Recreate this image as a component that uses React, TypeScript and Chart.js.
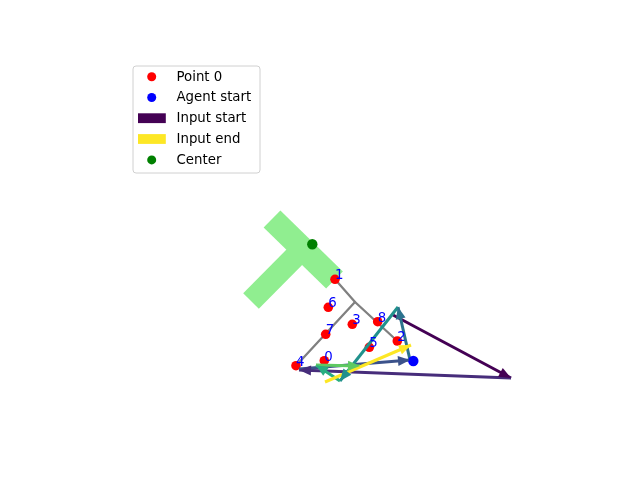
import React, { useEffect, useRef } from "react";
import { Chart, registerables } from "chart.js";

Chart.register(...registerables);

// Data space: x to the right, y upward (arbitrary units)
const X_MIN = 0, X_MAX = 64, Y_MIN = 0, Y_MAX = 48;

// Numbered points
const pointLabels = ["0", "1", "2", "3", "4", "5", "6", "7", "8"];
const pointX = [32.43, 33.5, 39.73, 35.23, 29.6, 36.93, 32.83, 32.57, 37.77];
const pointY = [11.93, 20.07, 13.9, 15.57, 11.43, 13.27, 17.27, 14.57, 15.83];

// Agent start and center
const agentStartX = [41.33];
const agentStartY = [11.9];
const centerX = [31.23];
const centerY = [23.57];

// Gray skeleton lines
const grayAX = [33.5, 35.5, 39.73];
const grayAY = [20.07, 17.8, 13.9];
const grayBX = [35.5, 29.6];
const grayBY = [17.8, 11.43];

// T-shaped region (two thick strokes)
const barX = [27.2, 33.45];
const barY = [26.1, 20.0];
const stemX = [30.25, 25.1];
const stemY = [23.1, 17.9];

// Input arrows (viridis, start -> end)
const arrowStartX = [39.3, 51.1, 29.9, 41.0, 39.8, 34.0, 31.6, 32.5];
const arrowStartY = [16.5, 10.2, 11.1, 12.0, 17.3, 9.9, 11.5, 9.8];
const arrowEndX = [51.1, 29.9, 41.0, 39.8, 34.0, 31.6, 36.0, 41.1];
const arrowEndY = [10.2, 11.0, 12.0, 17.3, 9.9, 11.5, 11.4, 13.5];
const arrowColors = ["#440154", "#472d7b", "#3b528b", "#2c728e", "#21918c", "#28ae80", "#5ec962", "#fde725"];

// Legend
const legendLabels = ["Point 0", "Agent start", "Input start", "Input end", "Center"];
const legendKinds = ["dot", "dot", "rect", "rect", "dot"];
const legendColors = ["#ff0000", "#0000ff", "#440154", "#fde725", "#008000"];

const FONT = "'DejaVu Sans', sans-serif";

const overlayPlugin = {
  id: "overlay",
  afterDatasetsDraw(chart: any) {
    const ctx = chart.ctx as CanvasRenderingContext2D;
    const xs = chart.scales.x;
    const ys = chart.scales.y;
    ctx.save();
    // arrowheads
    for (let i = 0; i < arrowStartX.length; i++) {
      const x0 = xs.getPixelForValue(arrowStartX[i]);
      const y0 = ys.getPixelForValue(arrowStartY[i]);
      const x1 = xs.getPixelForValue(arrowEndX[i]);
      const y1 = ys.getPixelForValue(arrowEndY[i]);
      const a = Math.atan2(y1 - y0, x1 - x0);
      const L = 12, W = 5;
      const c = Math.cos(a), s = Math.sin(a);
      ctx.beginPath();
      ctx.moveTo(x1, y1);
      ctx.lineTo(x1 - L * c + W * s, y1 - L * s - W * c);
      ctx.lineTo(x1 - L * c - W * s, y1 - L * s + W * c);
      ctx.closePath();
      ctx.fillStyle = arrowColors[i];
      ctx.fill();
    }
    // point labels
    ctx.font = `13.33px ${FONT}`;
    ctx.fillStyle = "#0000ff";
    ctx.textAlign = "left";
    ctx.textBaseline = "alphabetic";
    for (let i = 0; i < pointLabels.length; i++) {
      ctx.fillText(pointLabels[i], xs.getPixelForValue(pointX[i]), ys.getPixelForValue(pointY[i]));
    }
    ctx.restore();
  },
  afterDraw(chart: any) {
    const ctx = chart.ctx as CanvasRenderingContext2D;
    ctx.save();
    // legend box
    const bx = 133, by = 66, bw = 127, bh = 107, r = 3;
    ctx.beginPath();
    ctx.moveTo(bx + r, by);
    ctx.lineTo(bx + bw - r, by);
    ctx.arcTo(bx + bw, by, bx + bw, by + r, r);
    ctx.lineTo(bx + bw, by + bh - r);
    ctx.arcTo(bx + bw, by + bh, bx + bw - r, by + bh, r);
    ctx.lineTo(bx + r, by + bh);
    ctx.arcTo(bx, by + bh, bx, by + bh - r, r);
    ctx.lineTo(bx, by + r);
    ctx.arcTo(bx, by, bx + r, by, r);
    ctx.closePath();
    ctx.fillStyle = "rgba(255,255,255,0.8)";
    ctx.fill();
    ctx.strokeStyle = "#d0d0d0";
    ctx.lineWidth = 1;
    ctx.stroke();
    ctx.font = `13.33px ${FONT}`;
    ctx.textAlign = "left";
    ctx.textBaseline = "middle";
    for (let i = 0; i < legendLabels.length; i++) {
      const cy = 76.7 + i * 20.8;
      ctx.fillStyle = legendColors[i];
      if (legendKinds[i] === "dot") {
        ctx.beginPath();
        ctx.arc(151.7, cy, 4.5, 0, Math.PI * 2);
        ctx.fill();
      } else {
        ctx.fillRect(138, cy - 5, 27.8, 9.8);
      }
      ctx.fillStyle = "#000000";
      ctx.fillText(legendLabels[i], 176.5, cy + 0.5);
    }
    ctx.restore();
  },
};

const toXY = (xs: number[], ys: number[]) => xs.map((x, i) => ({ x, y: ys[i] }));

export default function App() {
  const ref = useRef<HTMLCanvasElement | null>(null);
  useEffect(() => {
    document.body.style.margin = "0";
    const canvas = ref.current;
    if (!canvas) return;
    const lineDs = (data: any[], color: string, width: number, order: number, cap = "round") => ({
      data,
      showLine: true,
      borderColor: color,
      backgroundColor: color,
      borderWidth: width,
      borderCapStyle: cap,
      borderJoinStyle: "miter",
      pointRadius: 0,
      pointHoverRadius: 0,
      order,
    });
    const datasets: any[] = [
      lineDs(toXY(barX, barY), "#90ee90", 24, 20, "butt"),
      lineDs(toXY(stemX, stemY), "#90ee90", 22, 19, "butt"),
      lineDs(toXY(grayAX, grayAY), "#808080", 2.3, 15),
      lineDs(toXY(grayBX, grayBY), "#808080", 2.3, 15),
      {
        data: toXY(pointX, pointY),
        pointRadius: 4.8,
        pointBackgroundColor: "#ff0000",
        pointBorderWidth: 0,
        showLine: false,
        order: 12,
      },
      ...arrowStartX.map((_, i) =>
        lineDs(
          [
            { x: arrowStartX[i], y: arrowStartY[i] },
            { x: arrowEndX[i], y: arrowEndY[i] },
          ],
          arrowColors[i],
          3,
          10 - i * 0.1,
          "butt"
        )
      ),
      {
        data: toXY(agentStartX, agentStartY),
        pointRadius: 5.2,
        pointBackgroundColor: "#0000ff",
        pointBorderWidth: 0,
        showLine: false,
        order: 2,
      },
      {
        data: toXY(centerX, centerY),
        pointRadius: 5.2,
        pointBackgroundColor: "#008000",
        pointBorderWidth: 0,
        showLine: false,
        order: 1,
      },
    ];
    const chart = new Chart(canvas, {
      type: "scatter",
      data: { datasets },
      options: {
        animation: false,
        responsive: false,
        devicePixelRatio: 1,
        layout: { padding: 0, autoPadding: false },
        plugins: { legend: { display: false }, tooltip: { enabled: false } },
        events: [],
        scales: {
          x: { type: "linear", min: X_MIN, max: X_MAX, display: false },
          y: { type: "linear", min: Y_MIN, max: Y_MAX, display: false },
        },
      } as any,
      plugins: [overlayPlugin],
    });
    return () => chart.destroy();
  }, []);
  return (
    <canvas
      ref={ref}
      width={640}
      height={480}
      style={{ display: "block", position: "absolute", left: 0, top: 0, width: 640, height: 480 }}
    />
  );
}
